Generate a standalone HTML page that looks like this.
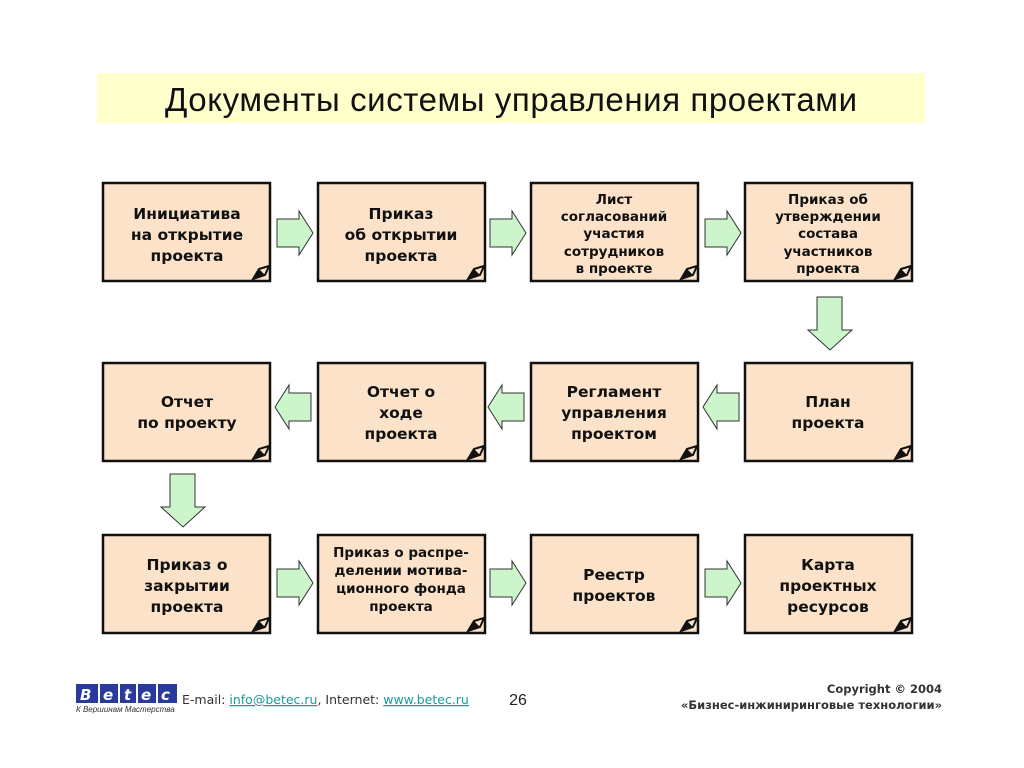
<!DOCTYPE html>
<html><head><meta charset="utf-8"><style>
body{margin:0;background:#fff;width:1024px;height:768px;overflow:hidden}
svg{display:block}
.t{font-family:"DejaVu Sans","Liberation Sans",sans-serif;font-weight:bold;font-size:15.5px;fill:#111;text-anchor:middle}
.s{font-size:13.5px}
</style></head><body>
<svg width="1024" height="768" viewBox="0 0 1024 768">
<defs>
<g id="box">
<rect x="0" y="0" width="167" height="98" fill="#fbe2c8" stroke="#111" stroke-width="2.5"/>
<path d="M150 96 L156 86 L166 83 L162 92 Z" fill="#fbe2c8" stroke="#111" stroke-width="2"/>
<path d="M152 95 L162 92 L156 86 Z" fill="#111"/>
</g>
<path id="ar" d="M0 8 H22 V0 L36 22 L22 44 V36 H0 Z" fill="#ccf5cc" stroke="#333" stroke-width="1"/>
<path id="al" d="M36 8 H14 V0 L0 22 L14 44 V36 H36 Z" fill="#ccf5cc" stroke="#333" stroke-width="1"/>
<path id="ad" d="M9 0 H34 V33 H44 L22 53 L0 33 H9 Z" fill="#ccf5cc" stroke="#333" stroke-width="1"/>
</defs>
<rect x="97" y="73" width="828" height="50" fill="#ffffcc"/>
<text x="511" y="111" font-family="'Liberation Sans',sans-serif" font-size="33" text-anchor="middle" fill="#111" textLength="692">Документы системы управления проектами</text>

<use href="#box" x="103" y="183"/><use href="#box" x="318" y="183"/><use href="#box" x="531" y="183"/><use href="#box" x="745" y="183"/>
<use href="#box" x="103" y="363"/><use href="#box" x="318" y="363"/><use href="#box" x="531" y="363"/><use href="#box" x="745" y="363"/>
<use href="#box" x="103" y="535"/><use href="#box" x="318" y="535"/><use href="#box" x="531" y="535"/><use href="#box" x="745" y="535"/>

<use href="#ar" x="277" y="211"/><use href="#ar" x="490" y="211"/><use href="#ar" x="705" y="211"/>
<use href="#al" x="275" y="385"/><use href="#al" x="488" y="385"/><use href="#al" x="703" y="385"/>
<use href="#ar" x="277" y="561"/><use href="#ar" x="490" y="561"/><use href="#ar" x="705" y="561"/>
<use href="#ad" x="808" y="297"/><use href="#ad" x="161" y="474"/>

<text class="t"><tspan x="187" y="219">Инициатива</tspan><tspan x="187" y="240">на открытие</tspan><tspan x="187" y="261">проекта</tspan></text>
<text class="t"><tspan x="401" y="219">Приказ</tspan><tspan x="401" y="240">об открытии</tspan><tspan x="401" y="261">проекта</tspan></text>
<text class="t s"><tspan x="614" y="204">Лист</tspan><tspan x="614" y="221">согласований</tspan><tspan x="614" y="238">участия</tspan><tspan x="614" y="256">сотрудников</tspan><tspan x="614" y="273">в проекте</tspan></text>
<text class="t s"><tspan x="828" y="204">Приказ об</tspan><tspan x="828" y="221">утверждении</tspan><tspan x="828" y="238">состава</tspan><tspan x="828" y="256">участников</tspan><tspan x="828" y="273">проекта</tspan></text>

<text class="t"><tspan x="187" y="407">Отчет</tspan><tspan x="187" y="428">по проекту</tspan></text>
<text class="t"><tspan x="401" y="397">Отчет о</tspan><tspan x="401" y="418">ходе</tspan><tspan x="401" y="439">проекта</tspan></text>
<text class="t"><tspan x="614" y="397">Регламент</tspan><tspan x="614" y="418">управления</tspan><tspan x="614" y="439">проектом</tspan></text>
<text class="t"><tspan x="828" y="407">План</tspan><tspan x="828" y="428">проекта</tspan></text>

<text class="t"><tspan x="187" y="570">Приказ о</tspan><tspan x="187" y="591">закрытии</tspan><tspan x="187" y="612">проекта</tspan></text>
<text class="t s"><tspan x="401" y="557">Приказ о распре-</tspan><tspan x="401" y="575">делении мотива-</tspan><tspan x="401" y="593">ционного фонда</tspan><tspan x="401" y="611">проекта</tspan></text>
<text class="t"><tspan x="614" y="580">Реестр</tspan><tspan x="614" y="601">проектов</tspan></text>
<text class="t"><tspan x="828" y="570">Карта</tspan><tspan x="828" y="591">проектных</tspan><tspan x="828" y="612">ресурсов</tspan></text>

<g font-family="'DejaVu Sans',sans-serif" font-weight="bold" font-style="italic" font-size="15" fill="#fff">
<rect x="76" y="684" width="22" height="19" fill="#2a3a9a"/><rect x="100" y="684" width="18" height="19" fill="#2a3a9a"/><rect x="120" y="684" width="16" height="19" fill="#2a3a9a"/><rect x="138" y="684" width="18" height="19" fill="#2a3a9a"/><rect x="158" y="684" width="19" height="19" fill="#2a3a9a"/>
<text x="80" y="700">B</text><text x="103" y="700">e</text><text x="124" y="700">t</text><text x="141" y="700">e</text><text x="161" y="700">c</text>
</g>
<text x="76" y="712" font-family="'Liberation Sans',sans-serif" font-style="italic" font-size="8" fill="#333">К Вершинам Мастерства</text>
<text x="182" y="704" font-family="'DejaVu Sans',sans-serif" font-size="12.5" fill="#333">E-mail: <tspan fill="#1a9a9a" text-decoration="underline">info@betec.ru</tspan>, Internet: <tspan fill="#1a9a9a" text-decoration="underline">www.betec.ru</tspan></text>
<text x="518" y="705" font-family="'Liberation Sans',sans-serif" font-size="16" text-anchor="middle" fill="#222">26</text>
<text x="942" y="693" font-family="'DejaVu Sans',sans-serif" font-weight="bold" font-size="11.5" text-anchor="end" fill="#333">Copyright © 2004</text>
<text x="942" y="709" font-family="'DejaVu Sans',sans-serif" font-weight="bold" font-size="11.5" text-anchor="end" fill="#333">«Бизнес-инжиниринговые технологии»</text>
</svg>
</body></html>
